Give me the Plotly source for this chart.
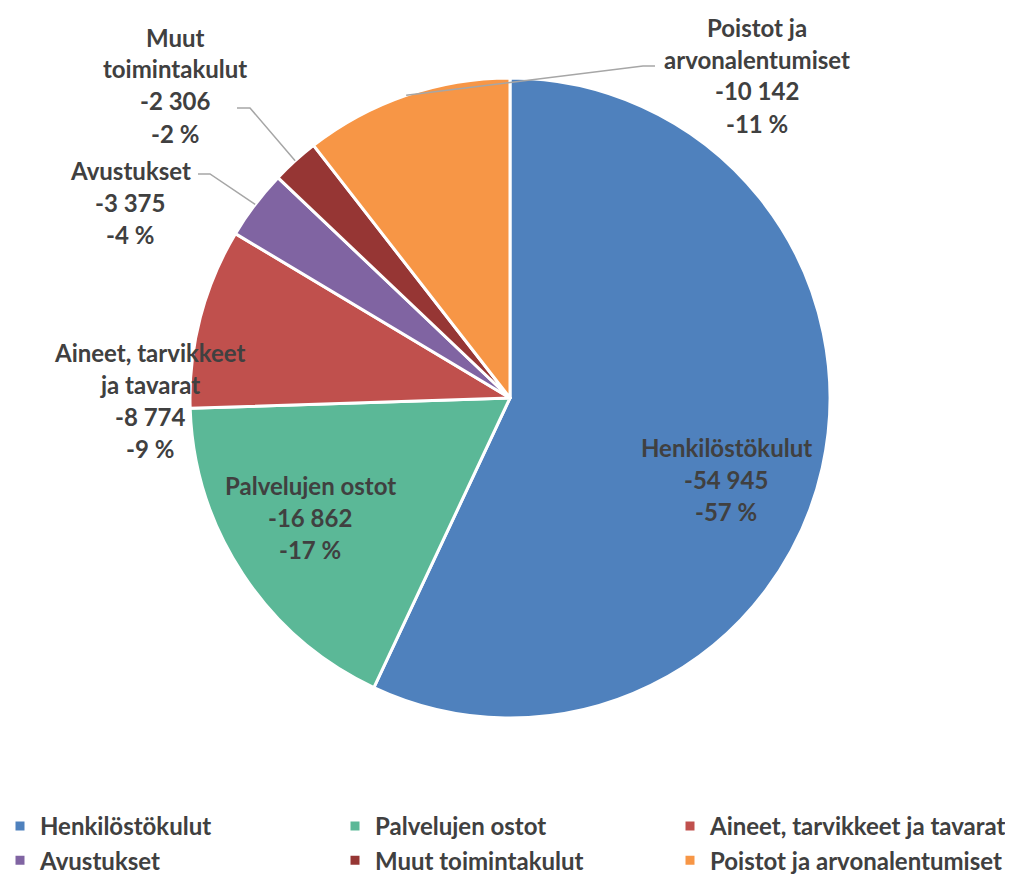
import math
import plotly.graph_objects as go

# ---------------- data ----------------
categories = ["Henkilöstökulut", "Palvelujen ostot", "Aineet, tarvikkeet ja tavarat",
              "Avustukset", "Muut toimintakulut", "Poistot ja arvonalentumiset"]
values = [-54945, -16862, -8774, -3375, -2306, -10142]
label_lines = [["Henkilöstökulut"], ["Palvelujen ostot"], ["Aineet, tarvikkeet", "ja tavarat"],
               ["Avustukset"], ["Muut", "toimintakulut"], ["Poistot ja", "arvonalentumiset"]]

# ---------------- style / layout ----------------
colors = ["#4F81BD", "#5BB897", "#C0504D", "#8064A2", "#963634", "#F79646"]
W, H = 1024, 882
CX, CY, R = 510, 398, 320
TEXT = "#404040"
FONT = "Lato"
FS = 24
LINE_H = 32
label_pos = [(726, 447), (310, 485), (150, 352), (130, 170), (175, 37), (757, 27)]
leaders = {3: [(210, 174), (198, 174)], 4: [(250, 108), (237, 108)], 5: [(643, 66), (655, 66)]}


def px(x, y):
    return x / W, 1 - y / H


def fmt(v):
    s = f"{abs(v):,}".replace(",", " ")
    return ("-" if v < 0 else "") + s


total = sum(abs(v) for v in values)
fig = go.Figure(go.Pie(
    labels=categories, values=[abs(v) for v in values], sort=False,
    direction="clockwise", rotation=0, textinfo="none", hoverinfo="label+value+percent",
    marker=dict(colors=colors, line=dict(color="white", width=3)),
    domain=dict(x=[0, (2 * CX) / W], y=[1 - (CY + R) / H, 1 - (CY - R) / H]),
))

annotations = []
shapes = []
cum = 0.0
for i, v in enumerate(values):
    frac = abs(v) / total
    mid = (cum + frac / 2) * 2 * math.pi
    cum += frac
    lines = label_lines[i] + [fmt(v), f"-{round(frac * 100)} %"]
    lx, ly = label_pos[i]
    for j, t in enumerate(lines):
        x, y = px(lx, ly + j * LINE_H)
        annotations.append(dict(x=x, y=y, xref="paper", yref="paper", text=f"<b>{t}</b>",
                                showarrow=False, xanchor="center", yanchor="middle",
                                font=dict(family=FONT, size=FS, color=TEXT)))
    if i in leaders:
        ex, ey = CX + R * math.sin(mid), CY - R * math.cos(mid)
        pts = [(ex, ey)] + leaders[i]
        path = "M" + " L".join(f"{px(a, b)[0]:.5f},{px(a, b)[1]:.5f}" for a, b in pts)
        shapes.append(dict(type="path", path=path, xref="paper", yref="paper",
                           line=dict(color="#A6A6A6", width=1.5)))

fig.update_layout(
    width=W, height=H, margin=dict(l=0, r=0, t=0, b=0, autoexpand=False),
    paper_bgcolor="white", plot_bgcolor="white",
    annotations=annotations, shapes=shapes,
    showlegend=True,
    legend=dict(orientation="h", x=0, xanchor="left", y=1 - 804 / H, yanchor="top",
                entrywidth=290, entrywidthmode="pixels",
                font=dict(family=FONT, size=FS, color=TEXT, weight="bold")),
)
fig.write_html("out.html", config={"displayModeBar": False},
               post_script="document.body.style.margin='0';document.body.style.overflow='hidden';")
